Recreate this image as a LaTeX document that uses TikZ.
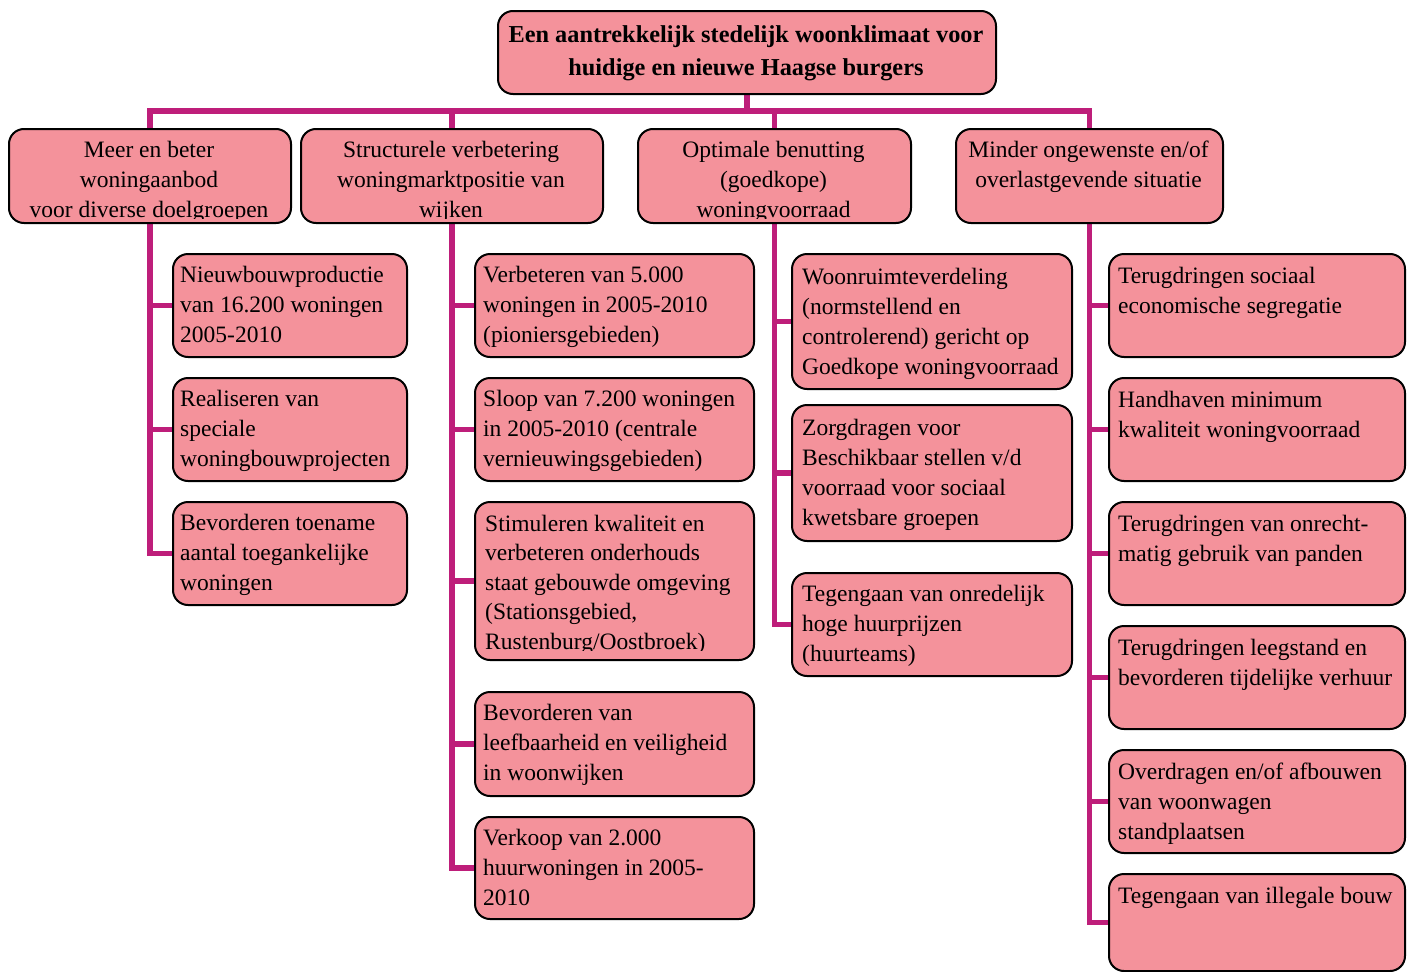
\documentclass[tikz,border=0pt]{standalone}
\usepackage{fontspec}
\setmainfont{Liberation Serif}
\usepackage{xcolor}
\usepackage{tikz}
\usetikzlibrary{positioning,backgrounds}

\definecolor{boxpink}{RGB}{244,146,155}
\definecolor{linkmagenta}{RGB}{190,30,122}

\begin{document}
\begin{tikzpicture}[x=1pt,y=-1pt,
  box/.style={draw=black,line width=2pt,fill=boxpink,rounded corners=15pt,anchor=north west,inner sep=0pt},
  boxtext/.style={anchor=base west,inner sep=0pt,align=left,font=\fontsize{23.5}{30}\selectfont},
  headtext/.style={anchor=base,inner sep=0pt,align=center,font=\fontsize{23.5}{30}\selectfont},
  link/.style={draw=linkmagenta,line width=5.5pt}]
\useasboundingbox (0,0) rectangle (1409,972);
% text nodes are placed at the baseline of their last line

% Top goal
\node[box,minimum width=498pt,minimum height=83pt] (goal) at (497,10) {};
\node[headtext,font=\bfseries\fontsize{24.3}{33}\selectfont] (goal-txt) at (746,75)
  {Een aantrekkelijk stedelijk woonklimaat voor\\huidige en nieuwe Haagse burgers};

% Sub goals
\node[box,minimum width=282pt,minimum height=94pt] (meer) at (8,128) {};
\node[box,minimum width=302pt,minimum height=94pt] (struct) at (300,128) {};
\node[box,minimum width=273pt,minimum height=94pt] (benut) at (637,128) {};
\node[box,minimum width=267pt,minimum height=94pt] (minder) at (955,128) {};

\begin{scope}
\clip (8,128) rectangle (910,218);
\node[headtext] (meer-txt) at (149,217) {Meer en beter\\woningaanbod\\voor diverse doelgroepen};
\node[headtext] (struct-txt) at (451,217) {Structurele verbetering\\woningmarktpositie van\\wijken};
\node[headtext] (benut-txt) at (773.5,217) {Optimale benutting\\(goedkope)\\woningvoorraad};
\end{scope}
\node[headtext] (minder-txt) at (1088.5,187) {Minder ongewenste en/of\\overlastgevende situatie};

% Meer en beter woningaanbod
\node[box,minimum width=234pt,minimum height=103pt] (meer1) at (172,253) {};
\node[boxtext] (meer1-txt) at (180,342) {Nieuwbouwproductie\\van 16.200 woningen\\2005-2010};
\node[box,minimum width=234pt,minimum height=103pt] (meer2) at (172,377) {};
\node[boxtext] (meer2-txt) at (180,466) {Realiseren van\\speciale\\woningbouwprojecten};
\node[box,minimum width=234pt,minimum height=103pt] (meer3) at (172,501) {};
\node[boxtext] (meer3-txt) at (180,590) {Bevorderen toename\\aantal toegankelijke\\woningen};

% Structurele verbetering
\node[box,minimum width=279pt,minimum height=103pt] (struct1) at (474,253) {};
\node[boxtext] (struct1-txt) at (483,342) {Verbeteren van 5.000\\woningen in 2005-2010\\(pioniersgebieden)};
\node[box,minimum width=279pt,minimum height=103pt] (struct2) at (474,377) {};
\node[boxtext] (struct2-txt) at (483,466) {Sloop van 7.200 woningen\\in 2005-2010 (centrale\\vernieuwingsgebieden)};
\node[box,minimum width=279pt,minimum height=158pt] (struct3) at (474,501) {};
\begin{scope}
\clip (474,501) rectangle (753,650);
\node[boxtext,font=\fontsize{23.5}{29.5}\selectfont] (struct3-txt) at (485,649)
  {Stimuleren kwaliteit en\\verbeteren onderhouds\\staat gebouwde omgeving\\(Stationsgebied,\\Rustenburg/Oostbroek)};
\end{scope}
\node[box,minimum width=279pt,minimum height=104pt] (struct4) at (474,691) {};
\node[boxtext] (struct4-txt) at (483,780) {Bevorderen van\\leefbaarheid en veiligheid\\in woonwijken};
\node[box,minimum width=279pt,minimum height=102pt] (struct5) at (474,816) {};
\node[boxtext] (struct5-txt) at (483,905) {Verkoop van 2.000\\huurwoningen in 2005-\\2010};

% Optimale benutting
\node[box,minimum width=280pt,minimum height=135pt] (benut1) at (791,253) {};
\node[boxtext] (benut1-txt) at (802,374) {Woonruimteverdeling\\(normstellend en\\controlerend) gericht op\\Goedkope woningvoorraad};
\node[box,minimum width=280pt,minimum height=136pt] (benut2) at (791,404) {};
\node[boxtext] (benut2-txt) at (802,525) {Zorgdragen voor\\Beschikbaar stellen v/d\\voorraad voor sociaal\\kwetsbare groepen};
\node[box,minimum width=280pt,minimum height=103pt] (benut3) at (791,572) {};
\node[boxtext] (benut3-txt) at (802,661) {Tegengaan van onredelijk\\hoge huurprijzen\\(huurteams)};

% Minder ongewenste situaties
\node[box,minimum width=296pt,minimum height=103pt] (minder1) at (1108,253) {};
\node[boxtext] (minder1-txt) at (1118,313) {Terugdringen sociaal\\economische segregatie};
\node[box,minimum width=296pt,minimum height=103pt] (minder2) at (1108,377) {};
\node[boxtext] (minder2-txt) at (1118,437) {Handhaven minimum\\kwaliteit woningvoorraad};
\node[box,minimum width=296pt,minimum height=103pt] (minder3) at (1108,501) {};
\node[boxtext] (minder3-txt) at (1118,561) {Terugdringen van onrecht-\\matig gebruik van panden};
\node[box,minimum width=296pt,minimum height=103pt] (minder4) at (1108,625) {};
\node[boxtext] (minder4-txt) at (1118,685) {Terugdringen leegstand en\\bevorderen tijdelijke verhuur};
\node[box,minimum width=296pt,minimum height=103pt] (minder5) at (1108,749) {};
\node[boxtext] (minder5-txt) at (1118,839) {Overdragen en/of afbouwen\\van woonwagen\\standplaatsen};
\node[box,minimum width=296pt,minimum height=97pt] (minder6) at (1108,873) {};
\node[boxtext] (minder6-txt) at (1118,903) {Tegengaan van illegale bouw};

% Connectors
\begin{scope}[on background layer]
\coordinate (bus) at (746,111);
\draw[link] (goal.south) -- (goal.south |- bus);
\draw[link] (meer.north) |- (bus) -| (minder.north);
\draw[link] (struct.north) -- (struct.north |- bus);
\draw[link] (benut.north) -- (benut.north |- bus);
\foreach \p/\c in {meer/meer1,meer/meer2,meer/meer3,
                   struct/struct1,struct/struct2,struct/struct3,struct/struct4,struct/struct5,
                   benut/benut1,benut/benut2,benut/benut3,
                   minder/minder1,minder/minder2,minder/minder3,minder/minder4,minder/minder5,minder/minder6}
  \draw[link] (\p.south) |- (\c.west);
\end{scope}
\end{tikzpicture}
\end{document}
